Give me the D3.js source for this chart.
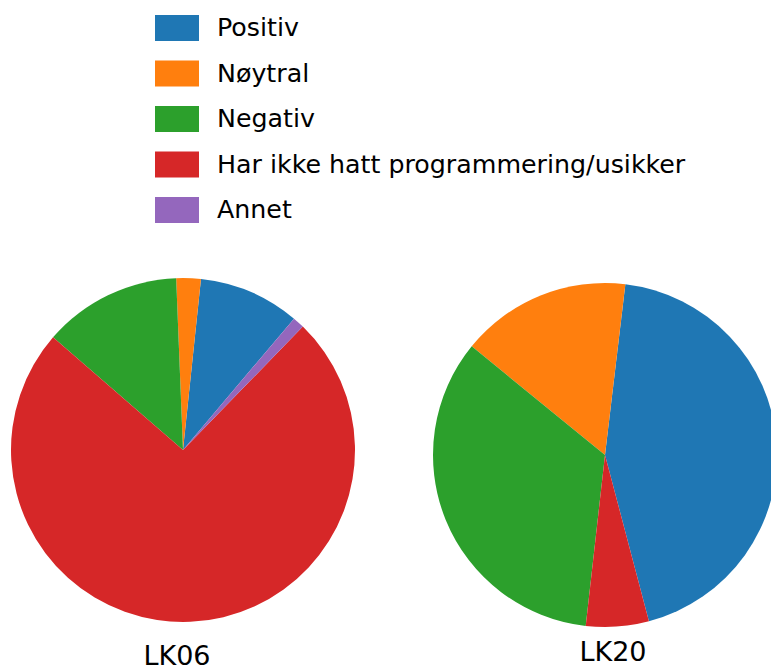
<!DOCTYPE html>
<html lang="no">
<head>
<meta charset="UTF-8">
<script src="https://d3js.org/d3.v7.min.js"></script>
<style>
  html, body { margin: 0; padding: 0; background: #fff; }
  svg text { font-family: "DejaVu Sans", Verdana, sans-serif; fill: #000; }
</style>
</head>
<body>
<svg id="chart" width="771" height="670"></svg>
<script>
// categories and colours (matplotlib tab10)
const categories = ["Positiv", "Nøytral", "Negativ", "Har ikke hatt programmering/usikker", "Annet"];
const colors = ["#1f77b4", "#ff7f0e", "#2ca02c", "#d62728", "#9467bd"];

// shares in percent
const lk06 = [9.5, 2.3, 13.0, 74.1, 1.1];
const lk20 = [44.0, 16.0, 34.1, 5.9, 0];

const pies = [
    { name: "LK06", values: lk06, cx: 183, cy: 450, start: 40.2, labelDx: -6, labelY: 665 },
    { name: "LK20", values: lk20, cx: 605, cy: 455, start: 165.2, labelDx: 8, labelY: 661 }
];

const svg = d3.select("#chart");
const radius = 172;

const color = d3.scaleOrdinal().domain(categories).range(colors);

// legend
const legend = svg.append("g").attr("transform", "translate(155,15)");
const rowY = d3.scalePoint().domain(categories).range([0, 182]);

const rows = legend.selectAll("g.row")
    .data(categories)
    .enter().append("g")
    .attr("class", "row")
    .attr("transform", d => "translate(0," + rowY(d) + ")");

rows.append("rect")
    .attr("width", 44)
    .attr("height", 26)
    .attr("fill", d => color(d));

rows.append("text")
    .attr("x", 62)
    .attr("y", 21)
    .attr("font-size", 25.3)
    .text(d => d);

// pies, drawn counterclockwise in legend order
const arc = d3.arc().innerRadius(0).outerRadius(radius);

pies.forEach(function (p) {
    const a0 = p.start * Math.PI / 180;
    const pie = d3.pie()
        .sort(null)
        .value(d => d.v)
        .startAngle(a0)
        .endAngle(a0 - 2 * Math.PI);

    const data = pie(p.values.map((v, i) => ({ v: v, cat: categories[i] })));

    const g = svg.append("g")
        .attr("transform", "translate(" + p.cx + "," + p.cy + ")");

    g.selectAll("path")
        .data(data.filter(d => d.data.v > 0))
        .enter().append("path")
        .attr("d", arc)
        .attr("fill", d => color(d.data.cat));

    svg.append("text")
        .attr("x", p.cx + p.labelDx)
        .attr("y", p.labelY)
        .attr("text-anchor", "middle")
        .attr("font-size", 27)
        .text(p.name);
});
</script>
</body>
</html>
